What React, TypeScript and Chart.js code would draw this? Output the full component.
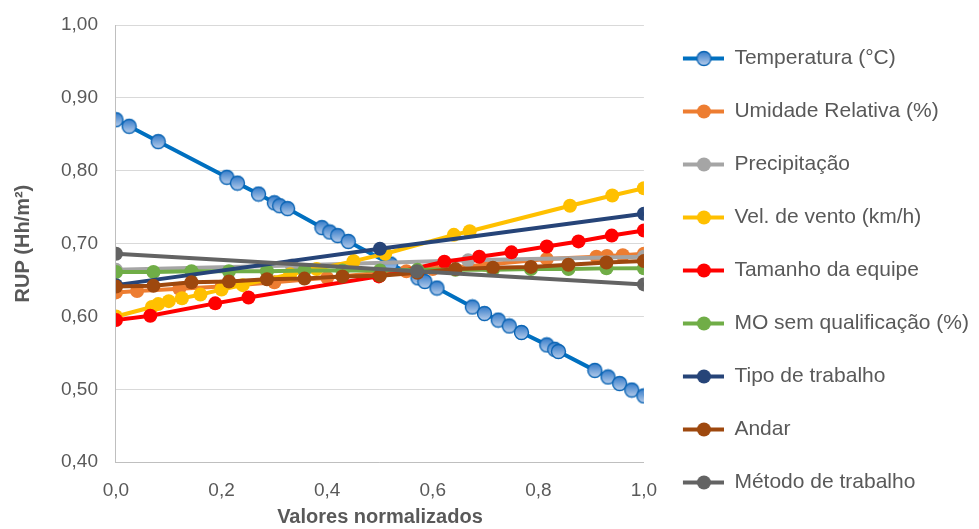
import React, { useEffect, useRef } from "react";
import { Chart, registerables } from "chart.js";

Chart.register(...registerables);

const seriesNames = [
  "Temperatura (°C)",
  "Umidade Relativa (%)",
  "Precipitação",
  "Vel. de vento (km/h)",
  "Tamanho da equipe",
  "MO sem qualificação (%)",
  "Tipo de trabalho",
  "Andar",
  "Método de trabalho",
];

const seriesColors = ["#0070C0", "#ED7D31", "#A5A5A5", "#FFC000", "#FF0000", "#70AD47", "#264478", "#9E480E", "#636363"];

const xTickLabels = ["0,0", "0,2", "0,4", "0,6", "0,8", "1,0"];
const yTickLabels = ["0,40", "0,50", "0,60", "0,70", "0,80", "0,90", "1,00"];

const tempX = [0, 0.025, 0.08, 0.21, 0.23, 0.27, 0.3, 0.31, 0.325, 0.39, 0.405, 0.42, 0.44, 0.52, 0.572, 0.585, 0.608, 0.675, 0.698, 0.724, 0.745, 0.768, 0.816, 0.831, 0.838, 0.907, 0.932, 0.954, 0.977, 1.0];
const tempY = [0.87, 0.861, 0.84, 0.791, 0.783, 0.768, 0.756, 0.752, 0.748, 0.722, 0.716, 0.711, 0.703, 0.672, 0.653, 0.648, 0.639, 0.613, 0.604, 0.595, 0.587, 0.578, 0.561, 0.555, 0.552, 0.526, 0.517, 0.508, 0.499, 0.491];

const umidX = [0, 0.04, 0.12, 0.2, 0.3, 0.4, 0.5, 0.55, 0.6, 0.7, 0.816, 0.91, 0.93, 0.96, 1.0];
const umidY = [0.633, 0.635, 0.638, 0.641, 0.647, 0.653, 0.66, 0.662, 0.665, 0.671, 0.679, 0.682, 0.683, 0.684, 0.686];

const precX = [0, 0.333, 0.667, 1.0];
const precY = [0.664, 0.67, 0.677, 0.682];

const ventoX = [0, 0.068, 0.08, 0.1, 0.125, 0.16, 0.2, 0.24, 0.33, 0.38, 0.45, 0.51, 0.64, 0.67, 0.86, 0.94, 1.0];
const ventoY = [0.6, 0.613, 0.617, 0.621, 0.625, 0.63, 0.637, 0.643, 0.658, 0.665, 0.676, 0.686, 0.712, 0.717, 0.752, 0.766, 0.776];

const equipeX = [0, 0.065, 0.188, 0.251, 0.498, 0.622, 0.688, 0.749, 0.816, 0.876, 0.939, 1.0];
const equipeY = [0.595, 0.601, 0.618, 0.626, 0.655, 0.675, 0.682, 0.688, 0.696, 0.703, 0.711, 0.718];

const moX = [0, 0.071, 0.143, 0.214, 0.286, 0.357, 0.429, 0.5, 0.571, 0.643, 0.714, 0.786, 0.857, 0.929, 1.0];
const moY = [0.661, 0.661, 0.662, 0.662, 0.662, 0.663, 0.663, 0.663, 0.664, 0.664, 0.664, 0.665, 0.665, 0.666, 0.666];

const tipoX = [0, 0.5, 1.0];
const tipoY = [0.643, 0.693, 0.741];

const andarX = [0, 0.071, 0.143, 0.214, 0.286, 0.357, 0.429, 0.5, 0.571, 0.643, 0.714, 0.786, 0.857, 0.929, 1.0];
const andarY = [0.641, 0.642, 0.647, 0.648, 0.651, 0.652, 0.655, 0.656, 0.66, 0.665, 0.667, 0.668, 0.671, 0.674, 0.676];

const metodoX = [0, 0.57, 1.0];
const metodoY = [0.686, 0.662, 0.644];

const seriesX = [tempX, umidX, precX, ventoX, equipeX, moX, tipoX, andarX, metodoX];
const seriesY = [tempY, umidY, precY, ventoY, equipeY, moY, tipoY, andarY, metodoY];

const FONT = "Liberation Sans, Arial, sans-serif";

function makeBlueMarker(): HTMLCanvasElement {
  const c = document.createElement("canvas");
  c.width = 17;
  c.height = 17;
  const g = c.getContext("2d")!;
  const grad = g.createLinearGradient(0, 1, 0, 16);
  grad.addColorStop(0, "#2f78c8");
  grad.addColorStop(1, "#bcd0ec");
  g.beginPath();
  g.arc(8.5, 8.5, 7, 0, Math.PI * 2);
  g.fillStyle = grad;
  g.fill();
  g.lineWidth = 1.4;
  g.strokeStyle = "#0a64b4";
  g.stroke();
  return c;
}

function makeLegendIcon(color: string, blue: HTMLCanvasElement | null): HTMLCanvasElement {
  const c = document.createElement("canvas");
  c.width = 48;
  c.height = 17;
  const g = c.getContext("2d")!;
  g.strokeStyle = color;
  g.lineWidth = 4;
  g.beginPath();
  g.moveTo(7, 8.5);
  g.lineTo(48, 8.5);
  g.stroke();
  if (blue) {
    g.drawImage(blue, 19.5, 0);
  } else {
    g.beginPath();
    g.arc(28, 8.5, 7, 0, Math.PI * 2);
    g.fillStyle = color;
    g.fill();
  }
  return c;
}

export default function App() {
  const ref = useRef<HTMLCanvasElement | null>(null);
  useEffect(() => {
    if (!ref.current) return;
    const blue = makeBlueMarker();
    const icons = seriesColors.map((c, i) => makeLegendIcon(c, i === 0 ? blue : null));
    const datasets = seriesNames.map((name, i) => ({
      label: name,
      data: seriesX[i].map((x, j) => ({ x, y: seriesY[i][j] })),
      borderColor: seriesColors[i],
      backgroundColor: seriesColors[i],
      pointBackgroundColor: seriesColors[i],
      pointBorderColor: seriesColors[i],
      pointBorderWidth: 0,
      pointRadius: 7,
      pointStyle: i === 0 ? (blue as any) : "circle",
      borderWidth: 4,
      showLine: true,
      tension: 0,
      order: seriesNames.length - i,
    }));
    const chart = new Chart(ref.current, {
      type: "scatter",
      data: { datasets },
      options: {
        animation: false,
        responsive: true,
        maintainAspectRatio: false,
        layout: { padding: { top: 12, right: 0, left: 11, bottom: 0 } },
        plugins: {
          tooltip: { enabled: false },
          legend: {
            position: "right",
            align: "center",
            maxWidth: 337,
            labels: {
              usePointStyle: true,
              pointStyleWidth: 48,
              padding: 32,
              color: "#595959",
              font: { family: FONT, size: 21 },
              sort: (a: any, b: any) => a.datasetIndex - b.datasetIndex,
              generateLabels: (ch: any) =>
                ch.data.datasets.map((d: any, i: number) => ({
                  text: d.label,
                  fillStyle: seriesColors[i],
                  strokeStyle: seriesColors[i],
                  lineWidth: 0,
                  pointStyle: icons[i],
                  hidden: false,
                  datasetIndex: i,
                  fontColor: "#595959",
                })),
            },
          },
        },
        scales: {
          x: {
            type: "linear",
            min: 0,
            max: 1,
            grid: { display: false, drawTicks: false },
            border: { display: true, color: "#bfbfbf", width: 1 },
            ticks: {
              stepSize: 0.2,
              padding: 17,
              color: "#595959",
              font: { family: FONT, size: 19 },
              callback: (v: any) => xTickLabels[Math.round(Number(v) / 0.2)] ?? "",
            },
            title: {
              display: true,
              text: "Valores normalizados",
              color: "#595959",
              font: { family: FONT, size: 20, weight: "bold" },
              padding: { top: -14, bottom: 0 },
            },
          },
          y: {
            min: 0.4,
            max: 1.0,
            afterFit: (s: any) => {
              s.paddingTop = 25;
            },
            grid: { color: "#d9d9d9", lineWidth: 1, drawTicks: false },
            border: { display: true, color: "#bfbfbf", width: 1 },
            ticks: {
              stepSize: 0.1,
              padding: 18,
              color: "#595959",
              font: { family: FONT, size: 19 },
              callback: (v: any) => yTickLabels[Math.round((Number(v) - 0.4) / 0.1)] ?? "",
            },
            title: {
              display: true,
              text: "RUP (Hh/m²)",
              color: "#595959",
              font: { family: FONT, size: 20, weight: "bold" },
              padding: { top: 0, bottom: 8 },
            },
          },
        },
      },
    });
    return () => chart.destroy();
  }, []);
  return (
    <div style={{ position: "fixed", left: 0, top: 0, width: 979, height: 529, background: "#fff" }}>
      <canvas ref={ref} />
    </div>
  );
}
